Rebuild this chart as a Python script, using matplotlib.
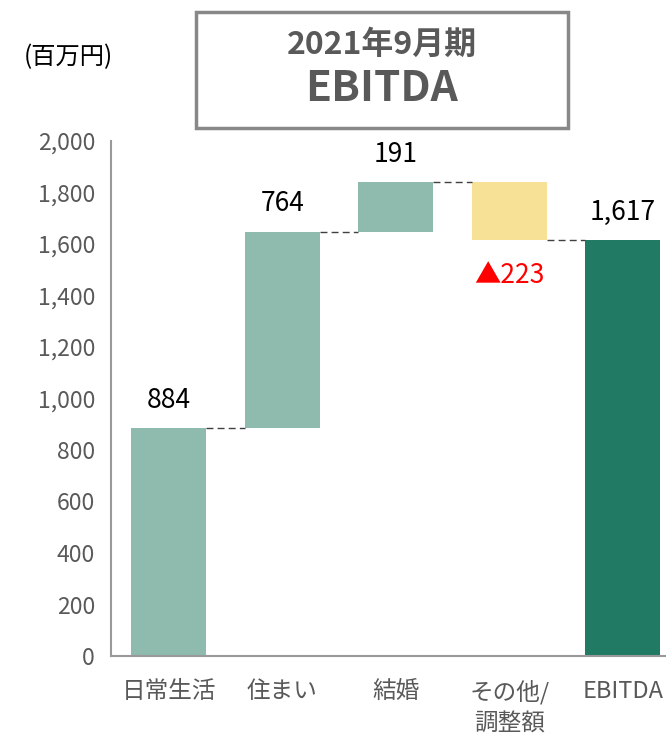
import matplotlib
matplotlib.use("Agg")
import matplotlib.pyplot as plt
from matplotlib.patches import Rectangle

plt.rcParams['font.family'] = ['Noto Sans CJK JP', 'DejaVu Sans']

categories = ["日常生活", "住まい", "結婚", "その他/\n調整額", "EBITDA"]
deltas = [884, 764, 191, -223]
total = 1617
labels = ["884", "764", "191", "▲223", "1,617"]
yticks = [0, 200, 400, 600, 800, 1000, 1200, 1400, 1600, 1800, 2000]

c_light = "#8fbaae"
c_yellow = "#f6e196"
c_dark = "#217a64"
gray = "#595959"

fig = plt.figure(figsize=(6.66, 7.38), dpi=100)
ax = fig.add_axes([111/666, 1-656/738, 1-111/666, (656-141)/738])

bw = 0.66
bottoms = []
heights = []
cum = 0
for d in deltas:
    if d >= 0:
        bottoms.append(cum); heights.append(d)
    else:
        bottoms.append(cum + d); heights.append(-d)
    cum += d
bottoms.append(0); heights.append(total)
colors = [c_light, c_light, c_light, c_yellow, c_dark]
x = list(range(len(categories)))
ax.bar(x, heights, bottom=bottoms, width=bw, color=colors, edgecolor='none')

# connectors
levels = []
cum = 0
for d in deltas:
    cum += d
    levels.append(cum)
levels[-1] = total
for i, lv in enumerate(levels):
    ax.plot([i + bw/2, i + 1 - bw/2], [lv, lv], color="#404040", lw=1.0,
            dashes=(5, 3))

# value labels
for i in range(len(categories)):
    if i == 3:
        ax.text(i, bottoms[i] - 85, labels[i], ha='center', va='top',
                color='#ff0000', fontsize=19)
    else:
        ax.text(i, bottoms[i] + heights[i] + 55, labels[i], ha='center',
                va='bottom', color='black', fontsize=19)

ax.set_ylim(0, 2000)
ax.set_xlim(-0.51, 4.38)
ax.set_yticks(yticks)
ax.set_yticklabels([f"{v:,}" for v in yticks], color=gray, fontsize=16.5)
ax.set_xticks(x)
ax.set_xticklabels(categories, color=gray, fontsize=17, linespacing=1.45,
                   va='top')
ax.tick_params(axis='both', length=0)
ax.tick_params(axis='y', pad=11.5)
ax.tick_params(axis='x', pad=17)
for s in ['top', 'right']:
    ax.spines[s].set_visible(False)
for s in ['left', 'bottom']:
    ax.spines[s].set_color('#999999')
    ax.spines[s].set_linewidth(1.5)

# title box
fig.patches.append(Rectangle((196/666, 1-128/738), (568-196)/666, (128-12)/738,
                             transform=fig.transFigure, fill=False,
                             edgecolor='#888888', lw=2.5))
fig.text(382/666, 1-45/738, "2021年9月期", ha='center', va='center',
         fontsize=23, fontweight='bold', color=gray)
fig.text(382/666, 1-89/738, "EBITDA", ha='center', va='center',
         fontsize=30.5, fontweight='bold', color=gray)
fig.text(24/666, 1-57/738, "(百万円)", ha='left', va='center',
         fontsize=17.5, color='black')

fig.savefig("out.png", dpi=100)
